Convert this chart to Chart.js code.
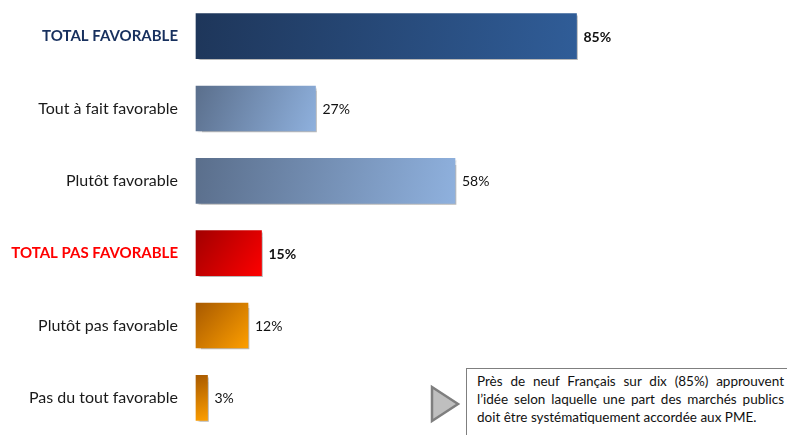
<!DOCTYPE html>
<html><head><meta charset="utf-8">
<script src="https://cdn.jsdelivr.net/npm/chart.js@4"></script>
<style>
html,body{margin:0;padding:0;background:#fff;}
#wrap{position:relative;width:787px;height:435px;overflow:hidden;}
#note{position:absolute;left:466px;top:368px;width:330px;height:80px;border:1.5px solid #7f7f7f;box-sizing:border-box;background:#fff;padding:3px 0 0 10px;font-family:Lato,"Open Sans",sans-serif;font-size:13.5px;line-height:18px;color:#111;}
#note div{width:307px;text-align:justify;text-align-last:justify;white-space:nowrap;}
#note div.last{text-align-last:left;}
#tri{position:absolute;left:0;top:0;}
</style></head>
<body><div id="wrap">
<canvas id="c" width="787" height="435"></canvas>
<svg id="tri" width="787" height="435"><polygon points="432,387 432,421 458,404" fill="#bfbfbf" stroke="#7f7f7f" stroke-width="2.5" stroke-linejoin="miter"/></svg>
<div id="note"><div>Près de neuf Français sur dix (85%) approuvent</div><div>l’idée selon laquelle une part des marchés publics</div><div class="last">doit être systématiquement accordée aux PME.</div></div>
</div>
<script>
const categories = ["TOTAL FAVORABLE","Tout à fait favorable","Plutôt favorable","TOTAL PAS FAVORABLE","Plutôt pas favorable","Pas du tout favorable"];
const values = [85,27,58,15,12,3];
const valueLabels = ["85%","27%","58%","15%","12%","3%"];
const isTotal = [true,false,false,true,false,false];
const gradStart = ["#1e365a","#5a6e8b","#5a6e8b","#a00000","#a65800","#a65800"];
const gradEnd = ["#305d98","#8fb1de","#8fb1de","#ff0000","#ffa000","#ffa000"];
const labelColors = ["#17305e","#1a1a1a","#1a1a1a","#ff0000","#1a1a1a","#1a1a1a"];

const shadowPlugin = {
  id:'shadowAndLabels',
  beforeDatasetsDraw(chart){
    const ctx=chart.ctx; ctx.save();
    ctx.shadowColor='rgba(0,0,0,0.28)'; ctx.shadowOffsetX=3; ctx.shadowOffsetY=3; ctx.shadowBlur=1.5;
  },
  afterDatasetsDraw(chart){
    const ctx=chart.ctx; ctx.restore();
    const meta=chart.getDatasetMeta(0);
    ctx.save();
    ctx.textBaseline='middle'; ctx.textAlign='left'; ctx.fillStyle='#111';
    meta.data.forEach((bar,i)=>{
      ctx.font=(isTotal[i]?'bold ':'')+'14px Lato, "Open Sans", sans-serif';
      ctx.fillText(valueLabels[i], bar.x+6, bar.y+1);
    });
    ctx.restore();
  }
};

new Chart(document.getElementById('c'),{
  type:'bar',
  data:{labels:categories,datasets:[{
    data:values,
    barThickness:47,
    borderWidth:1,
    borderSkipped:false,
    borderColor:'rgba(255,255,255,0.65)',
    backgroundColor:(c)=>{
      const ch=c.chart; const i=c.dataIndex;
      if(!ch.chartArea||!ch.scales.x||i===undefined) return gradStart[i]||'#888';
      const x0=ch.scales.x.getPixelForValue(0), x1=ch.scales.x.getPixelForValue(values[i]);
      const yc=ch.scales.y.getPixelForValue(i);
      const g=ch.ctx.createLinearGradient(x0,yc-24,x1,yc+24);
      g.addColorStop(0,gradStart[i]); g.addColorStop(1,gradEnd[i]);
      return g;
    }
  }]},
  options:{
    indexAxis:'y',
    responsive:false,
    animation:false,
    layout:{padding:{top:-1,bottom:1,right:142,left:0}},
    plugins:{legend:{display:false},tooltip:{enabled:false}},
    scales:{
      x:{display:false,min:0,max:100},
      y:{
        grid:{display:false,drawTicks:false},
        border:{display:false},
        afterFit(s){s.width=195;s.paddingTop=0;s.paddingBottom=0;},
        ticks:{
          padding:17,
          color:(c)=>labelColors[c.index],
          font:(c)=>({family:'Lato, "Open Sans", sans-serif',size:isTotal[c.index]?15:16,weight:isTotal[c.index]?'bold':'normal'})
        }
      }
    }
  },
  plugins:[shadowPlugin]
});
</script>
</body></html>
